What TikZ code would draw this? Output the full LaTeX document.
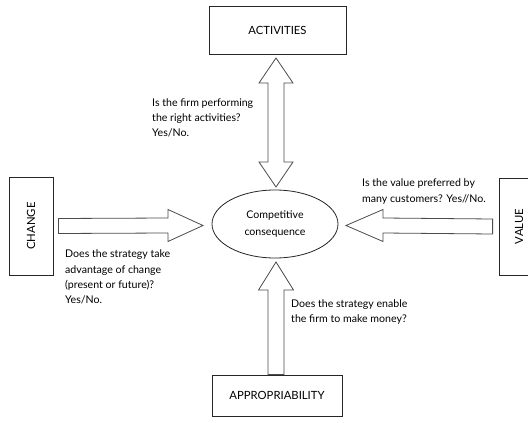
\documentclass[tikz,border=0pt]{standalone}
\usepackage{fontspec}
\setmainfont{Lato}
\usetikzlibrary{calc,shapes.geometric}
\begin{document}
\begin{tikzpicture}[x=1pt,y=-1pt,
  box/.style={draw=black!85,line width=0.8pt,inner sep=0pt,font=\fontsize{11.3}{12}\selectfont},
  hub/.style={draw=black!85,line width=0.8pt,ellipse,minimum width=126pt,minimum height=68pt,inner sep=0pt,align=center,font=\fontsize{10.6}{17}\selectfont},
  blockarrow/.style={draw=black!70,line width=0.8pt,fill=white,line join=miter},
  question/.style={align=left,anchor=west,inner sep=0pt,font=\fontsize{10.6}{15.3}\selectfont}]
\useasboundingbox (0,0) rectangle (528,423);

% outer boxes
\node[box,minimum width=137pt,minimum height=48pt] (act) at (277.5,30) {ACTIVITIES};
\node[box,minimum width=130pt,minimum height=41pt] (app) at (277,395.5) {APPROPRIABILITY};
\node[box,minimum width=44pt,minimum height=98pt] (chg) at (31,226) {\rotatebox{90}{CHANGE}};
\node[box,minimum width=40pt,minimum height=97pt] (val) at (519,226.5) {\rotatebox{90}{VALUE}};

% centre
\node[hub] (core) at (275,224) {Competitive\\consequence};

% ACTIVITIES <-> core: double block arrow
\coordinate (aT) at (276,58);
\coordinate (aB) at (276,187);
\draw[blockarrow] (aT) -- ++(17,25) -- ++(-9,0) -- (284,162) -- (293,162) -- (aB)
  -- (259,162) -- (268,162) -- (268,83) -- (259,83) -- cycle;

% CHANGE -> core
\coordinate (cT) at (203,225.5);
\draw[blockarrow] ($(chg.east)+(5,-7.5)$) -- (168,218) -- (168,209.5) -- (cT)
  -- (168,241.5) -- (168,233) -- ($(chg.east)+(5,7.5)$) -- cycle;

% VALUE -> core
\coordinate (vT) at (346,225.5);
\draw[blockarrow] ($(val.west)+(-6,-7.5)$) -- (383,218) -- (383,209.5) -- (vT)
  -- (383,241.5) -- (383,233) -- ($(val.west)+(-6,7.5)$) -- cycle;

% APPROPRIABILITY -> core
\coordinate (pT) at (276,262);
\draw[blockarrow] (app.north -| 268,0) -- (268,290) -- (258.5,290) -- (pT)
  -- (293.5,290) -- (284,290) -- (app.north -| 284,0) -- cycle;

% questions
\node[question] (qact) at (152,118) {Is the firm performing\\the right activities?\\Yes/No.};
\node[question] (qchg) at (65,277) {Does the strategy take\\advantage of change\\(present or future)?\\Yes/No.};
\node[question] (qval) at (362,191.5) {Is the value preferred by\\many customers? Yes//No.};
\node[question] (qapp) at (291,312) {Does the strategy enable\\the firm to make money?};
\end{tikzpicture}
\end{document}
